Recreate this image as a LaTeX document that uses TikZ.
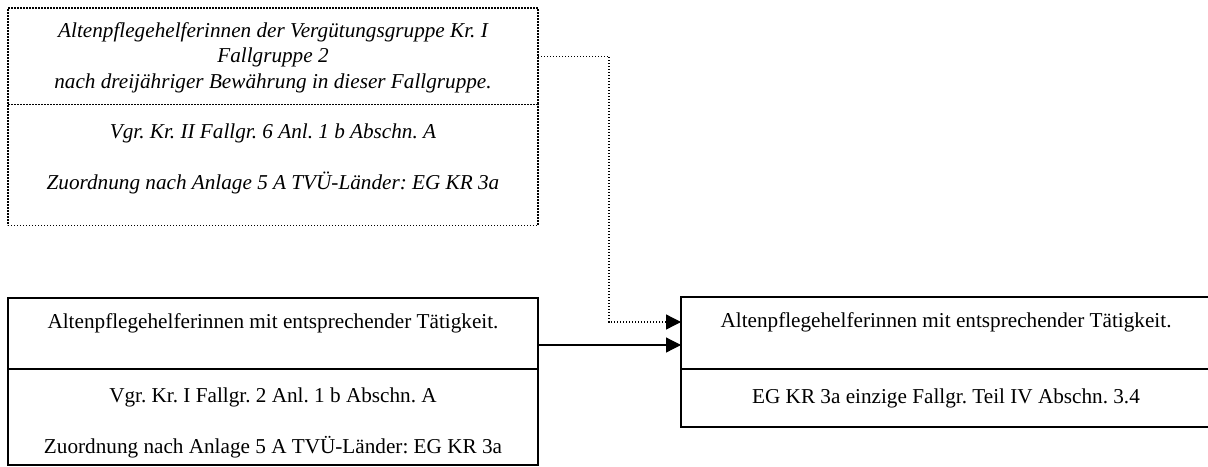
\documentclass[tikz,border=0pt]{standalone}
\usepackage{fontspec}
\setmainfont{Liberation Serif}
\usepackage{tikz}
\usetikzlibrary{arrows.meta,positioning}
\frenchspacing

\newcommand{\cellhi}[1]{\rule{0pt}{#1}}
\newcommand{\celllo}[1]{\rule[-#1]{0pt}{#1}}

\begin{document}
\begin{tikzpicture}[
  x=0.5pt, y=-0.5pt,
  >={Triangle[length=7.5pt,width=7.5pt]},
  cell/.style={rectangle, draw=black, line width=0.6pt, align=center, minimum width=265pt, inner sep=0pt, outer sep=0pt, font=\fontsize{10.6pt}{12.75pt}\selectfont},
  dcell/.style={cell, line width=0.65pt, dash pattern=on 0.6pt off 0.9pt, font=\fontsize{10.6pt}{12.75pt}\selectfont\itshape},
  dotline/.style={line width=0.65pt, dash pattern=on 0.6pt off 0.9pt}
]
\clip (0,0) rectangle (1208,466);
\node[dcell, anchor=north west, minimum height=48pt] (tA) at (8,8) {\cellhi{14.5pt}Altenpflegehelferinnen der Vergütungsgruppe Kr. I\\Fallgruppe 2\\nach dreijähriger Bewährung in dieser Fallgruppe.\celllo{8.25pt}};
\node[dcell, below=0pt of tA, minimum height=60.5pt] (tB) {\cellhi{16.75pt}Vgr. Kr. II Fallgr. 6 Anl. 1 b Abschn. A\\[12.75pt]Zuordnung nach Anlage 5 A TVÜ-Länder: EG KR 3a\celllo{18.25pt}};

\node[cell, anchor=north west, minimum height=35.5pt] (lA) at (8,298) {\cellhi{15pt}Altenpflegehelferinnen mit entsprechender Tätigkeit.\celllo{20.5pt}};
\node[cell, below=0pt of lA, minimum height=48pt] (lB) {\cellhi{16.5pt}Vgr. Kr. I Fallgr. 2 Anl. 1 b Abschn. A\\[12.75pt]Zuordnung nach Anlage 5 A TVÜ-Länder: EG KR 3a\celllo{6pt}};

\node[cell, anchor=north west, minimum height=36pt] (rA) at (681,297) {\cellhi{15pt}Altenpflegehelferinnen mit entsprechender Tätigkeit.\celllo{21pt}};
\node[cell, below=0pt of rA, minimum height=29pt] (rB) {\cellhi{17pt}EG KR 3a einzige Fallgr. Teil IV Abschn. 3.4\celllo{12pt}};

\draw[dotline, ->] (tA.east) -- ++(35.5pt,0) |- ([yshift=5.5pt]rA.west);
\draw[->, line width=0.6pt] ([yshift=-5.75pt]lA.east) -- ([yshift=-5.75pt]lA.east -| rA.west);
\end{tikzpicture}
\end{document}
